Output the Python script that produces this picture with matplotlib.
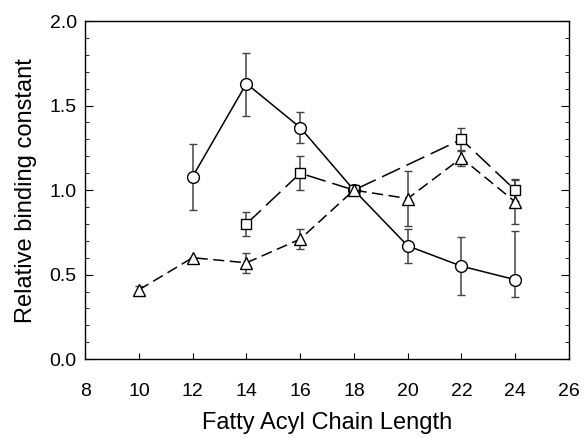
import matplotlib
matplotlib.use("Agg")
import matplotlib.pyplot as plt
from matplotlib.ticker import MultipleLocator, FormatStrFormatter

plt.rcParams['font.family'] = ['Liberation Sans', 'DejaVu Sans']

# Circles (solid line)
circ_x = [12, 14, 16, 18, 20, 22, 24]
circ_y = [1.08, 1.63, 1.37, 1.00, 0.67, 0.55, 0.47]
circ_err_lo = [0.20, 0.19, 0.09, 0.0, 0.10, 0.17, 0.10]
circ_err_hi = [0.19, 0.18, 0.09, 0.0, 0.10, 0.17, 0.29]

# Squares (long dashes)
sq_x = [14, 16, 18, 22, 24]
sq_y = [0.80, 1.10, 1.00, 1.30, 1.00]
sq_err = [0.07, 0.10, 0.0, 0.07, 0.065]

# Triangles (medium dashes)
tri_x = [10, 12, 14, 16, 18, 20, 22, 24]
tri_y = [0.41, 0.60, 0.57, 0.71, 1.00, 0.95, 1.19, 0.93]
tri_err = [0.02, 0.0, 0.06, 0.06, 0.0, 0.16, 0.05, 0.13]

fig = plt.figure(figsize=(5.83, 4.38), dpi=100)
ax = fig.add_axes([0.146, 0.180, 0.830, 0.772])

ekw = dict(ecolor='#444444', elinewidth=1.1, capsize=2.7, capthick=1.1)
mkw = dict(markerfacecolor='white', markeredgecolor='black', markeredgewidth=1.0,
           color='black', linewidth=1.1)

ax.errorbar(circ_x, circ_y, yerr=[circ_err_lo, circ_err_hi], marker='o', markersize=8.5,
            linestyle='-', zorder=3, **ekw, **mkw)
ax.errorbar(sq_x, sq_y, yerr=sq_err, marker='s', markersize=7.5,
            linestyle=(0, (13, 4.6)), zorder=3, **ekw, **mkw)
ax.errorbar(tri_x, tri_y, yerr=tri_err, marker='^', markersize=9,
            linestyle=(0, (7.3, 3.6)), zorder=3, **ekw, **mkw)

ax.set_xlim(8, 26)
ax.set_ylim(0, 2.0)
ax.xaxis.set_major_locator(MultipleLocator(2))
ax.yaxis.set_major_locator(MultipleLocator(0.5))
ax.yaxis.set_minor_locator(MultipleLocator(0.1))
ax.yaxis.set_major_formatter(FormatStrFormatter('%.1f'))
ax.tick_params(axis='both', which='both', direction='in', labelsize=14)
ax.tick_params(axis='x', which='major', length=4, pad=17)
ax.tick_params(axis='y', which='both', right=True, pad=6)
ax.tick_params(axis='y', which='major', length=6)
ax.tick_params(axis='y', which='minor', length=3)
for s in ax.spines.values():
    s.set_linewidth(1.0)

ax.set_xlabel('Fatty Acyl Chain Length', fontsize=17, labelpad=9)
ax.set_ylabel('Relative binding constant', fontsize=17, labelpad=9)

fig.savefig('out.png', dpi=100)
